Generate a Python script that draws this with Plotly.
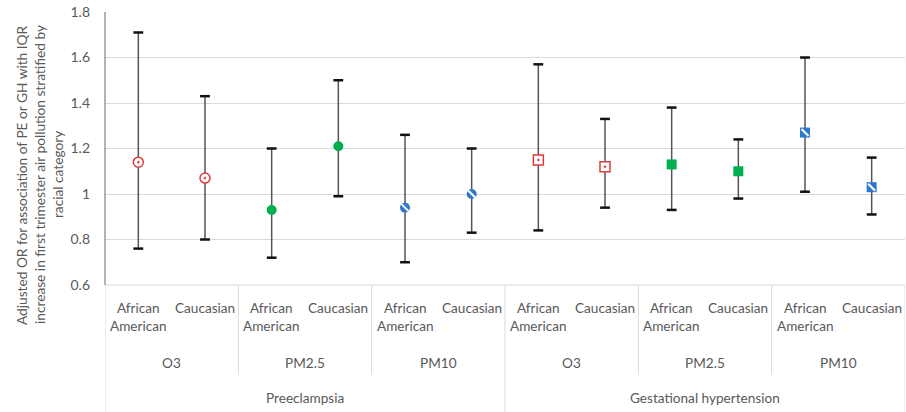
import plotly.graph_objects as go

races = ["African<br>American", "Caucasian"] * 6
pollutants = ["O3", "PM2.5", "PM10"]
outcomes = ["Preeclampsia", "Gestational hypertension"]

or_vals = [1.14, 1.07, 0.93, 1.21, 0.94, 1.00, 1.15, 1.12, 1.13, 1.10, 1.27, 1.03]
ci_low = [0.76, 0.80, 0.72, 0.99, 0.70, 0.83, 0.84, 0.94, 0.93, 0.98, 1.01, 0.91]
ci_high = [1.71, 1.43, 1.20, 1.50, 1.26, 1.20, 1.57, 1.33, 1.38, 1.24, 1.60, 1.16]

y_ticks = [0.6, 0.8, 1.0, 1.2, 1.4, 1.6, 1.8]
y_tick_text = ["0.6", "0.8", "1", "1.2", "1.4", "1.6", "1.8"]

y_title_lines = ["Adjusted OR for association of PE or GH with IQR",
                 "increase in first trimester air pollution stratified by",
                 "racial category"]

RED = "#E03C3C"
GREEN = "#00B050"
BLUE = "#2F78D2"
FONT = "Lato"
GRAY = "#595959"
LBL = 13.6

# marker style per pollutant/outcome
styles = []
for o in range(2):
    base = "circle" if o == 0 else "square"
    styles += [
        (base + "-dot", "white", RED, 1.5),
        (base, GREEN, GREEN, 0),
        (base, BLUE, BLUE, 0),
    ]

x = list(range(12))
fig = go.Figure()

# error bar stems
fig.add_trace(go.Scatter(
    x=x, y=or_vals, mode="markers",
    marker=dict(size=1, color="rgba(0,0,0,0)"),
    error_y=dict(type="data", symmetric=False,
                 array=[h - v for h, v in zip(ci_high, or_vals)],
                 arrayminus=[v - l for l, v in zip(ci_low, or_vals)],
                 color="#555555", thickness=1.5, width=0),
    showlegend=False, hoverinfo="skip"))
# caps
fig.add_trace(go.Scatter(
    x=x + x, y=ci_low + ci_high, mode="markers",
    marker=dict(symbol="line-ew", size=7, line=dict(color="#111111", width=2.5)),
    showlegend=False, hoverinfo="skip"))

for g in range(6):
    sym, fill, line, lw = styles[g]
    xs = x[2 * g:2 * g + 2]
    ys = or_vals[2 * g:2 * g + 2]
    fig.add_trace(go.Scatter(
        x=xs, y=ys, mode="markers",
        marker=dict(symbol=sym, size=10, color=fill,
                    line=dict(color=line, width=lw)),
        showlegend=False))
    if g % 3 == 2:
        fig.add_trace(go.Scatter(
            x=xs, y=ys, mode="markers",
            marker=dict(symbol="line-nw", size=7,
                        line=dict(color="white", width=2)),
            showlegend=False, hoverinfo="skip"))

def py(pix):
    return (285 - pix) / 273.0

annotations = []
for i, r in enumerate(races):
    annotations.append(dict(x=i, y=py(317 if i % 2 == 0 else 308), xref="x", yref="paper",
                            text=r, showarrow=False, yanchor="middle",
                            font=dict(family=FONT, size=LBL, color=GRAY)))
for k in range(6):
    annotations.append(dict(x=2 * k + 0.5, y=py(363), xref="x", yref="paper",
                            text=pollutants[k % 3], showarrow=False, yanchor="middle",
                            font=dict(family=FONT, size=LBL, color=GRAY)))
for k in range(2):
    annotations.append(dict(x=6 * k + 2.5, y=py(398), xref="x", yref="paper",
                            text=outcomes[k], showarrow=False, yanchor="middle",
                            font=dict(family=FONT, size=LBL, color=GRAY)))
for j, t in enumerate(y_title_lines):
    annotations.append(dict(x=(21 + 18 * j - 105) / 800.0, y=py(175), xref="paper", yref="paper",
                            text=t, showarrow=False, textangle=-90,
                            xanchor="center", yanchor="middle",
                            font=dict(family=FONT, size=13.7, color=GRAY)))

shapes = []
for k in range(7):
    bottom = py(412) if k % 3 == 0 else py(375)
    shapes.append(dict(type="line", xref="x", yref="paper",
                       x0=2 * k - 0.5, x1=2 * k - 0.5, y0=0, y1=bottom,
                       line=dict(color="#D9D9D9", width=1)))
shapes.append(dict(type="line", xref="paper", yref="paper", x0=0, x1=1, y0=0, y1=0,
                   line=dict(color="#D9D9D9", width=1)))
shapes.append(dict(type="line", xref="paper", yref="paper", x0=0, x1=0, y0=0, y1=1,
                   line=dict(color="#8C8C8C", width=1.3)))

fig.update_layout(
    width=906, height=412,
    margin=dict(l=105, r=1, t=12, b=127),
    plot_bgcolor="white", paper_bgcolor="white",
    font=dict(family=FONT, size=13, color=GRAY),
    xaxis=dict(range=[-0.5, 11.5], showticklabels=False, showgrid=False,
               zeroline=False, showline=False, fixedrange=True),
    yaxis=dict(range=[0.6, 1.8], tickvals=y_ticks, ticktext=y_tick_text,
               showgrid=True, gridcolor="#D9D9D9", gridwidth=1,
               zeroline=False, showline=False, ticks="", ticklabelstandoff=14,
               tickfont=dict(family=FONT, size=14, color=GRAY)),
    annotations=annotations, shapes=shapes,
)

fig.write_html("out.html")
